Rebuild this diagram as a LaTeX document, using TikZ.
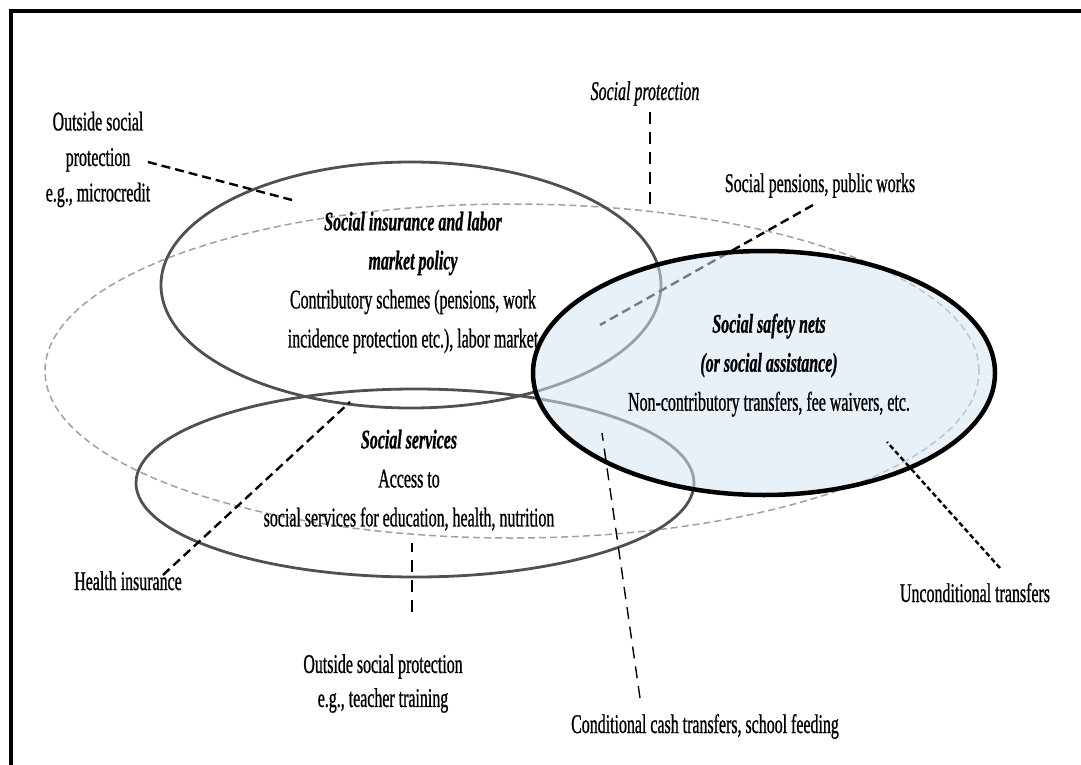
\documentclass[tikz,border=0pt]{standalone}
\usepackage{fontspec}
\setmainfont[FakeStretch=0.59, FakeBold=0.8]{Liberation Serif}
\usetikzlibrary{shapes.geometric}
\definecolor{ellgray}{RGB}{80,80,80}
\definecolor{spgray}{RGB}{160,160,160}
\definecolor{ssnfill}{RGB}{213,228,242}
\tikzset{
  lbl/.style={font=\fontsize{27}{39}\selectfont, inner sep=0pt, align=center},
  oval/.style={ellipse, inner sep=0pt, draw=ellgray, line width=2.8pt},
  leadthick/.style={line width=2.4pt, dash pattern=on 9pt off 5pt},
  leadthin/.style={line width=1.4pt, dash pattern=on 12pt off 8pt},
  leaddot/.style={line width=2.4pt, dash pattern=on 5pt off 3pt}
}
\begin{document}
\begin{tikzpicture}[x=1pt,y=-1pt]
\useasboundingbox (0,0) rectangle (1081,765);
% frame
\draw[line width=4pt] (10.5,766) -- (10.5,11) -- (1082,11);

% social protection (dashed)
\node[ellipse, inner sep=0pt, draw=spgray, line width=1.5pt, dash pattern=on 7pt off 4pt,
      minimum width=934pt, minimum height=334pt] (sp) at (512,371) {};
% social insurance
\node[oval, minimum width=500pt, minimum height=246pt] (si) at (411,285) {};
% social services
\node[oval, minimum width=558pt, minimum height=188pt] (ss) at (415,483) {};

% leader under the safety-net fill
\coordinate (pwend) at (600,325);
\node[lbl, anchor=base] (pw) at (820,192) {Social pensions, public works};
\draw[leadthick] (813,205) -- (pwend);

% social safety nets
\node[ellipse, inner sep=0pt, fill=ssnfill, fill opacity=0.55,
      minimum width=462pt, minimum height=244pt] (snfill) at (764,373) {};
\node[ellipse, inner sep=0pt, draw=black, line width=4.5pt,
      minimum width=462pt, minimum height=244pt] (sn) at (764,373) {};

% labels
\node[lbl, anchor=north] (osp) at (98,111.5) {Outside social\\[-3.5pt]protection\\[-3.5pt]e.g., microcredit};
\coordinate (mcend) at (292,200);
\draw[leadthick] (148,162) -- (mcend);

\node[lbl, anchor=base, font=\fontsize{27}{39}\selectfont\itshape] (spl) at (645,100) {Social protection};
\coordinate (spend) at (650,207);
\draw[leadthin] (650,112) -- (spend);

\node[lbl, anchor=north] (sit) at (413,211.5)
  {{\bfseries\itshape Social insurance and labor}\\{\bfseries\itshape market policy}\\
   Contributory schemes (pensions, work\\incidence protection etc.), labor market};

\node[lbl, anchor=north] (snt) at (769,313.5)
  {{\bfseries\itshape Social safety nets}\\{\bfseries\itshape (or social assistance)}\\
   Non-contributory transfers, fee waivers, etc.};

\node[lbl, anchor=north] (sst) at (409,429.5)
  {{\bfseries\itshape Social services}\\Access to\\social services for education, health, nutrition};

\node[lbl, anchor=base] (hi) at (128,590) {Health insurance};
\coordinate (hiend) at (350,402);
\draw[leadthick] (163,575) -- (hiend);

\node[lbl, anchor=north] (ostt) at (383,654) {Outside social protection\\[-5pt]e.g., teacher training};
\coordinate (ttend) at (412,543);
\draw[leadthin] (412,612) -- (ttend);

\node[lbl, anchor=base] (cct) at (705,733) {Conditional cash transfers, school feeding};
\coordinate (cctend) at (602,433);
\draw[leadthin] (640,698) -- (cctend);

\node[lbl, anchor=base] (ut) at (975,602) {Unconditional transfers};
\coordinate (utend) at (887,442);
\draw[leaddot] (1000,568) -- (utend);
\end{tikzpicture}
\end{document}
